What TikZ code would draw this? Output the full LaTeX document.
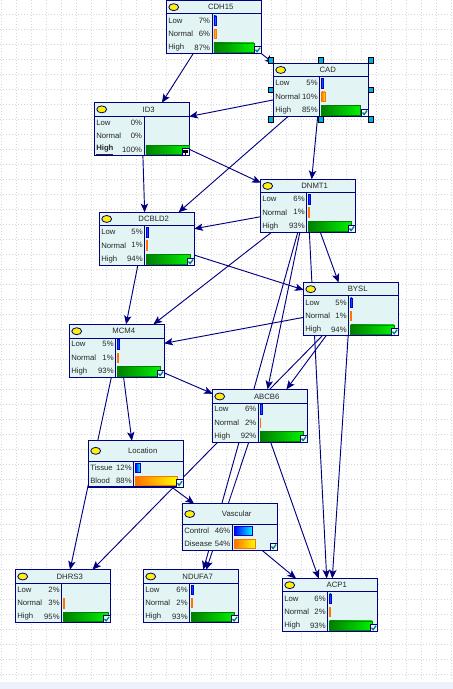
\documentclass[tikz,border=0pt]{standalone}
\usepackage{fontspec}
\setmainfont{Liberation Sans}
\usetikzlibrary{arrows.meta, calc, backgrounds}

\definecolor{netnavy}{HTML}{000080}
\definecolor{netfill}{HTML}{E3F4F4}
\definecolor{netcheck}{HTML}{007F7F}
\definecolor{netgrid}{HTML}{D6D6D6}
\definecolor{netband}{HTML}{EDF2FA}

\tikzset{
  netbox/.style={draw=netnavy, line width=0.85pt, fill=netfill, anchor=north west, inner sep=0pt, outer sep=0pt, minimum width=70.9pt},
  netrule/.style={draw=netnavy, line width=0.75pt},
  nettext/.style={font=\fontsize{5.8}{7}\selectfont, text=black!85, inner sep=0pt},
  link/.style={draw=netnavy, line width=0.7pt, -{Stealth[length=6.5pt, width=5.5pt, inset=1.5pt]}},
  gridline/.style={draw=netgrid, line width=0.75pt, dash pattern=on 0.75pt off 1.5pt},
  lamp/.style={draw=netnavy, line width=0.6pt, fill=yellow},
  handle/.style={draw=black, line width=0.5pt, fill=cyan, inner sep=0pt, minimum size=3.8pt},
  lowbar/.style={draw=blue!80!black, line width=0.4pt, left color=blue, right color=cyan},
  midbar/.style={draw=orange!90!red, line width=0.4pt, left color=orange!90!red, right color=yellow},
  highbar/.style={draw=green!50!black, line width=0.4pt, left color=green!50!black, right color=green!95!black},
  nobar/.style={draw=none}
}

% name, position, title, height, header height, divider, rows
\newcommand{\netnode}[7]{
  \node[netbox, minimum height={#4*0.75pt}] (#1) at (#2) {};
  \begin{scope}[shift={(#1.north west)}]
    \draw[netrule] (0,#5) -- (94.6,#5);
    \draw[netrule] (#6,#5) -- (#6,#4);
    \draw[lamp] (7,#5/2) ellipse [x radius=3.7pt, y radius=2.6pt];
    \node[nettext] (#1-title) at (54,#5/2) {#3};
    \foreach \rowy/\rowlab/\rowpct/\rowlen/\rowbar [count=\rowi] in {#7} {
      \node[nettext, anchor=west] (#1-lab\rowi) at (1.3,\rowy) {\rowlab};
      \node[nettext, anchor=east] (#1-pct\rowi) at (#6-1.8,\rowy) {\rowpct};
      \path[\rowbar] (#6+1.8,\rowy-4.7) rectangle (#6+1.8+\rowlen,\rowy+4.7);
    }
    % check box
    \draw[netrule, line width=0.6pt, fill=netfill!40!white] (87.4,#4-7.2) rectangle (94.6,#4);
    \draw[netcheck, line width=1pt] (88.8,#4-3.8) -- (90.4,#4-1.8) -- (93.4,#4-5.8);
  \end{scope}
}

\begin{document}
\begin{tikzpicture}[x=0.75pt, y=-0.75pt, >=Stealth]
  \useasboundingbox (0,0) rectangle (453,689);

  \netnode{CDH15}{166.7,0.5}{CDH15}{53}{13.3}{45.3}{20/Low/7\%/2.8/lowbar, 33.3/Normal/6\%/2.6/midbar, 47/High/87\%/40/highbar}
  \netnode{CAD}{273.7,63.3}{CAD}{53}{13.3}{46}{20/Low/5\%/1.6/lowbar, 33.3/Normal/10\%/4/midbar, 47/High/85\%/39/highbar}
  \netnode{ID3}{94.7,102.7}{ID3}{53}{13.3}{49.3}{20/Low/0\%/0/nobar, 33/Normal/0\%/0/nobar, 47/{\underline{\textbf{High}}}/100\%/43.5/highbar}
  \netnode{DNMT1}{260.7,179.3}{DNMT1}{53}{13.3}{46}{20/Low/6\%/2.2/lowbar, 33/Normal/1\%/0.3/midbar, 47/High/93\%/43/highbar}
  \netnode{DCBLD2}{99.7,212.3}{DCBLD2}{53}{13.3}{45}{20/Low/5\%/1.6/lowbar, 33/Normal/1\%/0.3/midbar, 47/High/94\%/43.5/highbar}
  \netnode{BYSL}{303.7,282.5}{BYSL}{53}{13.3}{45}{20/Low/5\%/1.6/lowbar, 33/Normal/1\%/0.3/midbar, 47/High/94\%/43.5/highbar}
  \netnode{MCM4}{69.7,324.3}{MCM4}{53}{13.8}{46}{20/Low/5\%/1.6/lowbar, 33.5/Normal/1\%/0.3/midbar, 47/High/93\%/43/highbar}
  \netnode{ABCB6}{212.7,389.3}{ABCB6}{53}{14.3}{45.6}{20/Low/6\%/2.2/lowbar, 33.5/Normal/2\%/0.5/midbar, 47/High/92\%/43/highbar}
  \netnode{Location}{88.7,440.7}{Location}{46.3}{20.3}{45}{27.3/Tissue/12\%/4.6/lowbar, 40.3/Blood/88\%/41.5/midbar}
  \netnode{Vascular}{182.7,503.7}{Vascular}{46.6}{20.6}{49.6}{27.3/Control/46\%/18.5/lowbar, 40.3/Disease/54\%/21.5/midbar}
  \netnode{DHRS3}{15.7,569.7}{DHRS3}{53}{13.6}{46}{20/Low/2\%/0/nobar, 33.5/Normal/3\%/0.5/midbar, 47/High/95\%/44.5/highbar}
  \netnode{NDUFA7}{143.7,569.7}{NDUFA7}{53}{13.6}{46}{20/Low/6\%/2/lowbar, 33/Normal/2\%/0.5/midbar, 47/High/93\%/43/highbar}
  \netnode{ACP1}{282.7,578.5}{ACP1}{53}{13.3}{45}{20/Low/6\%/1.6/lowbar, 33/Normal/2\%/0.5/midbar, 47/High/93\%/42.5/highbar}

  % pin on ID3
  \begin{scope}[shift={(ID3.south east)}]
    \draw[netrule, line width=0.6pt, fill=white] (-7.2,-7.2) rectangle (0,0);
    \fill[black] (-5.8,-5.6) rectangle (-1.4,-4.2);
    \fill[black] (-6.4,-3.4) rectangle (-0.8,-2.6);
    \fill[black] (-4.4,-2.6) rectangle (-2.8,-1);
  \end{scope}

  % selection handles on CAD
  \foreach \hx/\hy [count=\hi] in {-50/-29.5, 0/-29.5, 50/-29.5, -50/0, 50/0, -50/29.5, 0/29.5, 50/29.5}
    \node[handle] (CAD-h\hi) at ($(CAD.center)+(\hx,\hy)$) {};

  \begin{scope}[on background layer]
    % sheet
    \fill[white] (0,0) rectangle (453,689);
    \foreach \gx in {1,16,...,451}
      \draw[gridline] (\gx,0) -- (\gx,681);
    \foreach \gy in {14.3,29.3,...,674.3}
      \draw[gridline] (0,\gy) -- (453,\gy);
    \fill[netband] (0,681.7) rectangle (453,689);

    % links
    \draw[link] (CDH15.232) -- (ID3.53);
    \draw[link] (CDH15.south east) -- (CAD.north west);
    \draw[link] (CAD.192) -- (ID3.15.6);
    \draw[link] (CAD.219.6) -- (DCBLD2.40.5);
    \draw[link] (CAD.263.5) -- (DNMT1.82);
    \draw[link] (ID3.272) -- (DCBLD2.95.8);
    \draw[link] (ID3.-23.7) -- (DNMT1.154.3);
    \draw[link] (DNMT1.193) -- (DCBLD2.12.5);
    \draw[link] (DNMT1.216.1) -- (MCM4.36.6);
    \draw[link] (DNMT1.-65.6) -- (BYSL.115.6);
    \draw[link] (DNMT1.-87.2) -- (ACP1.97.1);
    \draw[link] (DNMT1.253.2) -- (ABCB6.74.6);
    \draw[link] (DNMT1.249.3) -- (NDUFA7.65.6);
    \draw[link] (DCBLD2.-19.7) -- (BYSL.158.1);
    \draw[link] (DCBLD2.251.8) -- (MCM4.71.8);
    \draw[link] (BYSL.190.4) -- (MCM4.9.7);
    \draw[link] (BYSL.223.4) -- (DHRS3.42.4);
    \draw[link] (BYSL.227.5) -- (ABCB6.45.5);
    \draw[link] (BYSL.264.2) -- (ACP1.85.7);
    \draw[link] (MCM4.-25.1) -- (ABCB6.155.2);
    \draw[link] (MCM4.-76.6) -- (Location.100.5);
    \draw[link] (MCM4.258.7) -- (DHRS3.75.2);
    \draw[link] (Location.-33) -- (Vascular.147.1);
    \draw[link] (Vascular.-36.3) -- (ACP1.142.9);
    \draw[link] (ABCB6.-68) -- (ACP1.113.8);
    \draw[link] (ABCB6.247.5) -- (NDUFA7.60.5);
  \end{scope}
\end{tikzpicture}
\end{document}
